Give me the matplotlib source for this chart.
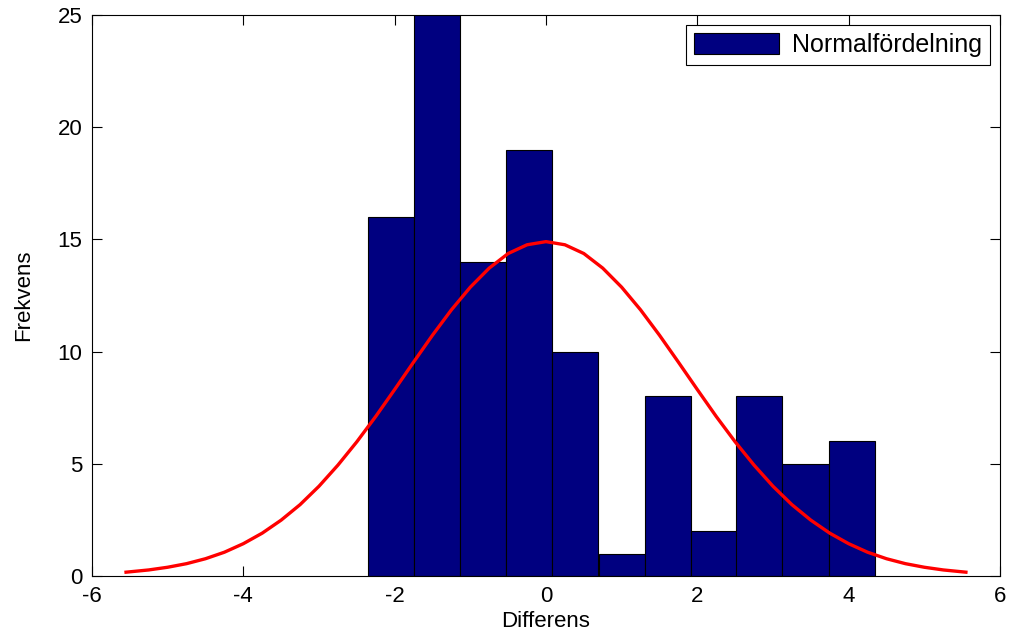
import numpy as np
import matplotlib.pyplot as plt

plt.rcParams['font.family'] = ['Liberation Sans', 'DejaVu Sans']
plt.rcParams['axes.unicode_minus'] = False

# Histogram of differences (bin centres and counts)
bin_centers = [-2.05, -1.44, -0.83, -0.22, 0.39, 1.00, 1.61, 2.22, 2.82, 3.43, 4.04]
counts = [16, 25, 14, 19, 10, 1, 8, 2, 8, 5, 6]
bin_width = 0.608

# Fitted normal curve, scaled to counts
curve_x = [-5.55, -5.25, -5.0, -4.75, -4.5, -4.25, -4.0, -3.75, -3.5, -3.25,
           -3.0, -2.75, -2.5, -2.25, -2.0, -1.75, -1.5, -1.25, -1.0, -0.75,
           -0.5, -0.25, 0.0, 0.25, 0.5, 0.75, 1.0, 1.25, 1.5, 1.75, 2.0,
           2.25, 2.5, 2.75, 3.0, 3.25, 3.5, 3.75, 4.0, 4.25, 4.5, 4.75,
           5.0, 5.25, 5.55]
curve_y = [0.17, 0.27, 0.39, 0.55, 0.77, 1.06, 1.44, 1.91, 2.49, 3.18,
           4.00, 4.94, 5.98, 7.11, 8.31, 9.53, 10.73, 11.86, 12.87, 13.72,
           14.37, 14.76, 14.90, 14.76, 14.37, 13.72, 12.87, 11.86, 10.73, 9.53, 8.31,
           7.11, 5.98, 4.94, 4.00, 3.18, 2.49, 1.91, 1.44, 1.06, 0.77, 0.55,
           0.39, 0.27, 0.17]

fig = plt.figure(figsize=(10.12, 6.4), dpi=100)
ax = fig.add_axes([0.0909, 0.1, 0.8972, 0.8766])

ax.bar(bin_centers, counts, width=bin_width, color='#000080',
       edgecolor='black', linewidth=0.8, label='Normalfördelning', zorder=2)
ax.plot(curve_x, curve_y, color='red', linewidth=2.4, zorder=3)

ax.set_xlim(-6, 6)
ax.set_ylim(0, 25)
ax.set_xticks(np.arange(-6, 7, 2))
ax.set_yticks(np.arange(0, 26, 5))
ax.tick_params(direction='in', top=True, right=True, length=7, width=0.8,
               labelsize=16, pad=7)
ax.set_xlabel('Differens', fontsize=16)
ax.set_ylabel('Frekvens', fontsize=16)
ax.xaxis.set_label_coords(0.5, -0.062)
ax.yaxis.set_label_coords(-0.064, 0.5)
for s in ax.spines.values():
    s.set_linewidth(0.8)

leg = ax.legend(loc='upper right', fontsize=18, fancybox=False,
                edgecolor='black', framealpha=1, handlelength=3.4,
                handleheight=0.9, handletextpad=0.5, borderpad=0.32,
                borderaxespad=0.4)
leg.get_frame().set_linewidth(0.8)

fig.savefig('out.png', dpi=100)
